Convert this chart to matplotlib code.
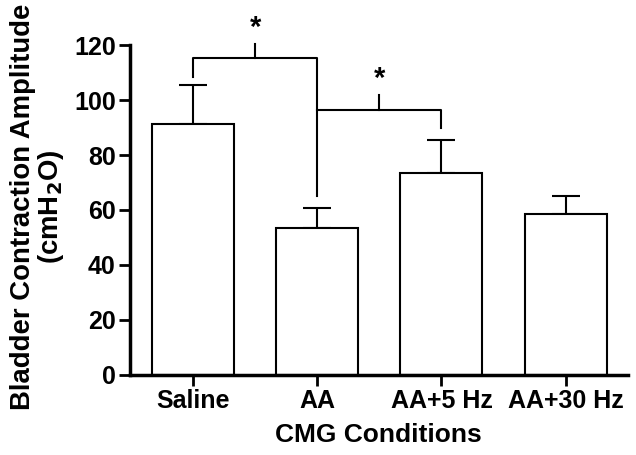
import matplotlib
matplotlib.use("Agg")
import matplotlib.pyplot as plt

categories = ["Saline", "AA", "AA+5 Hz", "AA+30 Hz"]
means = [91.3, 53.5, 73.5, 58.5]
errors = [14.2, 7.2, 12.0, 6.5]
yticks = [0, 20, 40, 60, 80, 100, 120]

plt.rcParams['font.family'] = ['Liberation Sans', 'DejaVu Sans']
plt.rcParams['font.weight'] = 'bold'

fig = plt.figure(figsize=(6.36, 4.55), dpi=100)
ax = fig.add_axes([0.204, 0.176, 0.783, 0.725])

x = list(range(len(categories)))
ax.bar(x, means, width=0.66, color='white', edgecolor='black', linewidth=1.5, zorder=2)
ax.errorbar(x, means, yerr=[[0]*len(errors), errors], fmt='none', ecolor='black',
            elinewidth=1.5, capsize=10, capthick=1.5, zorder=1)

ax.set_xlim(-0.51, 3.5)
ax.set_ylim(0, 120)
ax.set_yticks(yticks)
ax.set_xticks(x)
ax.set_xticklabels(categories, fontsize=18, fontweight='bold')
ax.set_yticklabels([str(t) for t in yticks], fontsize=18, fontweight='bold')
for s in ['top', 'right']:
    ax.spines[s].set_visible(False)
for s in ['left', 'bottom']:
    ax.spines[s].set_linewidth(2.5)
ax.tick_params(axis='both', direction='out', length=8, width=2, pad=2)

ax.set_xlabel("CMG Conditions", fontsize=19, fontweight='bold', labelpad=7)
ax.set_ylabel("Bladder Contraction Amplitude\n(cmH$_\\mathbf{2}$O)", fontsize=19.8,
              fontweight='bold', linespacing=1.0)
ax.yaxis.set_label_coords(-0.128, 0.51)

# significance brackets
lw = 1.5
ax.plot([0, 0, 1, 1], [108.5, 115.4, 115.4, 65], color='black', lw=lw, clip_on=False)
ax.plot([0.5, 0.5], [115.4, 120.4], color='black', lw=lw, clip_on=False)
ax.text(0.5, 121.0, "*", ha='center', va='bottom', fontsize=21, fontweight='bold')
ax.plot([1, 2, 2], [96.4, 96.4, 89.8], color='black', lw=lw, clip_on=False)
ax.plot([1.5, 1.5], [96.4, 101.8], color='black', lw=lw, clip_on=False)
ax.text(1.5, 102.4, "*", ha='center', va='bottom', fontsize=21, fontweight='bold')

fig.savefig("out.png", dpi=100)
